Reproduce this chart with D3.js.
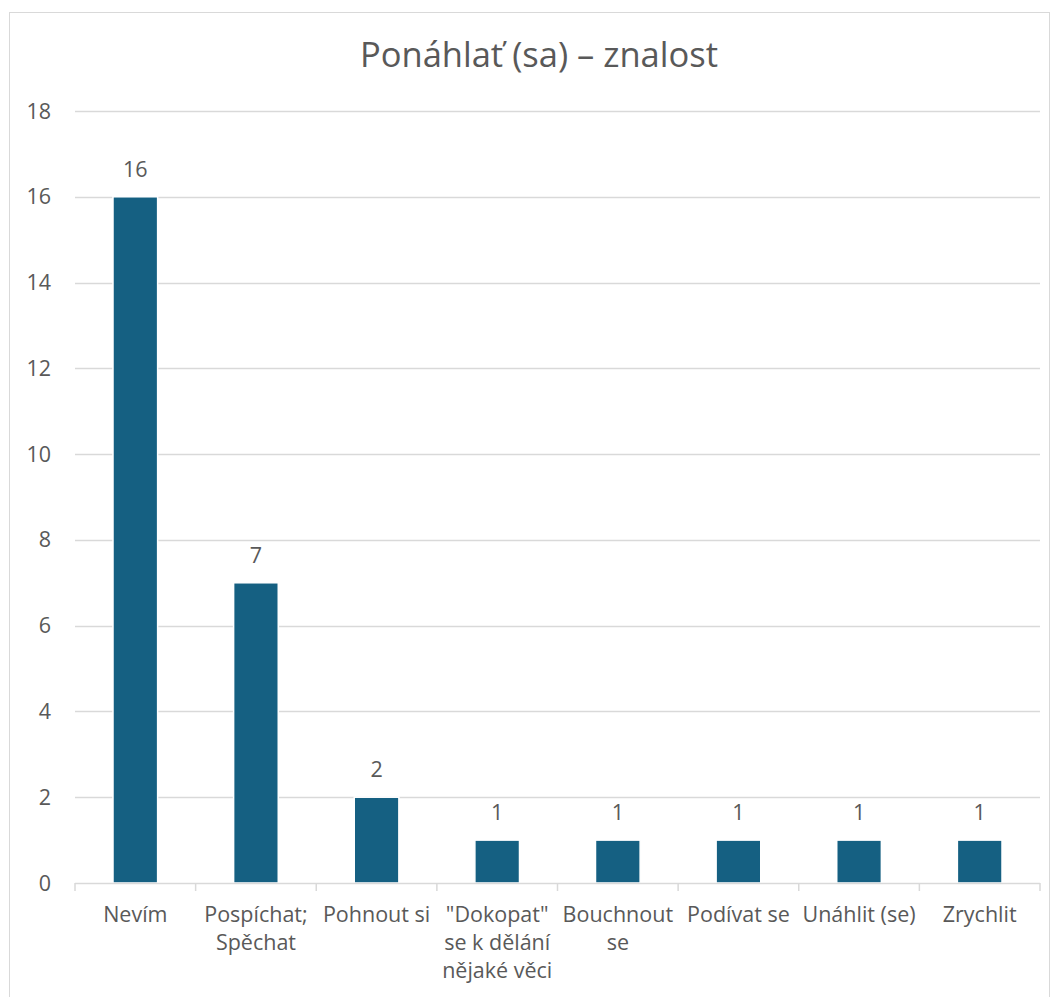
<!DOCTYPE html>
<html><head><meta charset="utf-8">
<script src="https://cdn.jsdelivr.net/npm/d3@7"></script>
<style>body{margin:0;background:#fff;}svg{display:block;font-family:"Open Sans",Roboto,sans-serif;}</style>
</head><body>
<svg id="c" width="1057" height="997"></svg>
<script>
const categories = [["Nevím"],["Pospíchat;","Spěchat"],["Pohnout si"],["\"Dokopat\"","se k dělání","nějaké věci"],["Bouchnout","se"],["Podívat se"],["Unáhlit (se)"],["Zrychlit"]];
const values = [16,7,2,1,1,1,1,1];
const yTicks = [0,2,4,6,8,10,12,14,16,18];
const title = "Ponáhlať (sa) – znalost";

const svg = d3.select("#c");
const txt = "#595959";
svg.append("rect").attr("x",9.5).attr("y",12.5).attr("width",1040).attr("height",1000).attr("fill","#fff").attr("stroke","#d9d9d9");
svg.append("text").attr("x",539).attr("y",67).attr("text-anchor","middle").attr("font-size",34.5).attr("fill",txt).text(title);

const L=75,R=1040,T=111,B=883;
const x = d3.scaleBand().domain(d3.range(categories.length)).range([L,R]).paddingInner(0.63).paddingOuter(0.315);
const xb = d3.scaleBand().domain(d3.range(categories.length)).range([L,R]);
const y = d3.scaleLinear().domain([0,18]).range([B,T]);

svg.append("g").selectAll("line").data(yTicks.filter(d=>d>0)).join("line")
 .attr("x1",L).attr("x2",R).attr("y1",d=>Math.round(y(d))+0.5).attr("y2",d=>Math.round(y(d))+0.5)
 .attr("stroke","#d9d9d9").attr("stroke-width",1.5);
svg.append("g").selectAll("text").data(yTicks).join("text")
 .attr("x",51).attr("y",d=>y(d)+7.5).attr("text-anchor","end").attr("font-size",21.5).attr("fill",txt).text(d=>d);

svg.append("g").selectAll("rect").data(values).join("rect")
 .attr("x",(d,i)=>x(i)).attr("width",x.bandwidth()).attr("y",d=>y(d)).attr("height",d=>B-y(d))
 .attr("fill","#156082").attr("stroke","#fff").attr("stroke-width",1.5);

svg.append("g").selectAll("text").data(values).join("text")
 .attr("x",(d,i)=>x(i)+x.bandwidth()/2).attr("y",d=>y(d)-20).attr("text-anchor","middle")
 .attr("font-size",21.5).attr("fill",txt).text(d=>d);

// x axis
const ax = svg.append("g").attr("stroke","#d9d9d9").attr("stroke-width",1.5);
ax.append("line").attr("x1",L).attr("x2",R).attr("y1",B+0.5).attr("y2",B+0.5);
ax.selectAll("line.t").data(d3.range(categories.length+1)).join("line").attr("class","t")
 .attr("x1",i=>i<categories.length?xb(i):R).attr("x2",i=>i<categories.length?xb(i):R)
 .attr("y1",B).attr("y2",B+8);

const lab = svg.append("g").selectAll("text").data(categories).join("text")
 .attr("text-anchor","middle").attr("font-size",21.5).attr("fill",txt);
lab.each(function(lines,i){
  const t=d3.select(this);
  lines.forEach((s,k)=>t.append("tspan").attr("x",xb(i)+xb.bandwidth()/2).attr("y",922+k*28).text(s));
});
</script>
</body></html>
